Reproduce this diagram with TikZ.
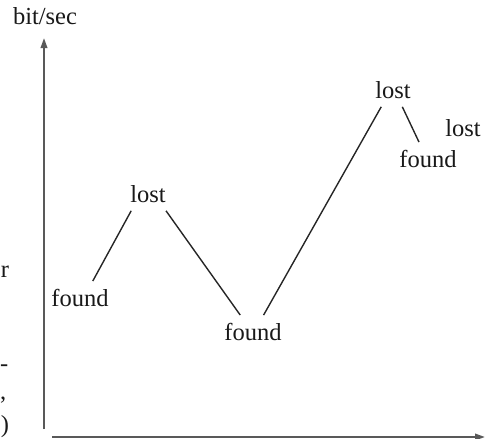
\documentclass[tikz,border=0pt]{standalone}
\usepackage{fontspec}
\setmainfont{Liberation Serif}
\usetikzlibrary{arrows.meta}
\tikzset{
    state/.style={inner sep=8pt,text=black!90,font=\fontsize{24.5}{27}\selectfont},
    link/.style={black!85,line width=1.4pt},
    axis/.style={black!65,line width=2pt,-{Triangle[length=10pt,width=6.5pt]}}
}
\begin{document}
\begin{tikzpicture}[x=1pt,y=-1pt]
        \useasboundingbox (0,0) rectangle (485,439);
        \clip (0,0) rectangle (485,439);
        \coordinate (ybot) at (44,429);
        \coordinate (ytop) at (44,38);
        \coordinate (xbeg) at (52,437);
        \coordinate (xend) at (485,437);
        \draw[axis] (ybot) -- (ytop);
        \draw[axis] (xbeg) -- (xend);
        \node[state] (unit) at (45,16) {bit/sec};
        % states along the rate curve
        \node[state] (found1) at (80,298) {found};
        \node[state] (lost1) at (148,194) {lost};
        \node[state] (found2) at (253,332) {found};
        \node[state] (lost2) at (393,90) {lost};
        \node[state] (found3) at (428,159) {found};
        \node[state] (lost3) at (463,128) {lost};
        \draw[link] (found1.53) -- (lost1.225);
        \draw[link] (lost1.317) -- (found2.127);
        \draw[link] (found2.58) -- (lost2.235);
        \draw[link] (lost2.299) -- (found3.118);
        % text at the left margin
        \node[state,inner sep=0pt] (edgeA) at (5,272) {r};
        \node[state,inner sep=0pt,anchor=west] (edgeB) at (0,368) {-};
        \node[state,inner sep=0pt,anchor=west] (edgeC) at (0,400) {,};
        \node[state,inner sep=0pt] (edgeD) at (5,427) {)};
\end{tikzpicture}
\end{document}
